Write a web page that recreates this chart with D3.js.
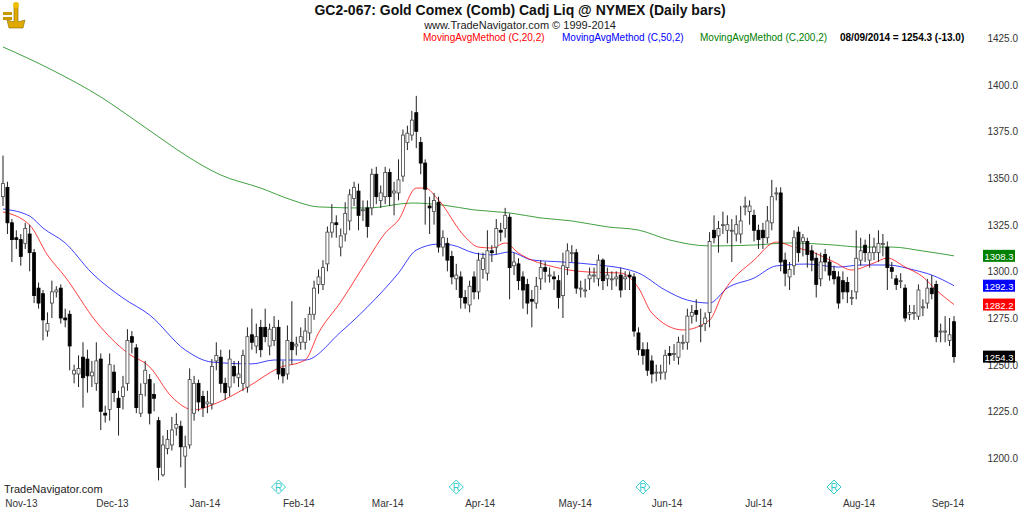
<!DOCTYPE html>
<html>
<head>
<meta charset="utf-8">
<script src="https://cdn.jsdelivr.net/npm/d3@7"></script>
<style>
  body { margin: 0; background: #fff; }
  text { font-family: "Liberation Sans Narrow", "Arial Narrow", "Liberation Sans", sans-serif; }
</style>
</head>
<body>
<div id="chart-area"></div>
<script>
// daily bars, Nov-13 .. Sep-14
const opens = [1340,1345,1326,1318,1317,1315,1320,1310,1291,1288,1268,1283,1289,1291,1275,1277,1245,1245,1254,1253,
  1244,1240,1253,1224,1226,1246,1232,1233,1240,1265,1259,1224,1240,1242,1234,1220,1191,1205,1207,1216,
  1217,1201,1207,1224,1240,1233,1229,1229,1252,1254,1240,1238,1249,1243,1240,1238,1266,1260,1270,1270,
  1260,1263,1270,1248,1245,1262,1260,1262,1262,1267,1277,1293,1293,1304,1321,1326,1313,1320,1327,1339,
  1343,1333,1334,1334,1352,1338,1340,1353,1342,1342,1351,1369,1373,1385,1369,1358,1335,1332,1337,1313,
  1315,1308,1296,1297,1286,1282,1297,1289,1301,1299,1311,1313,1322,1323,1329,1303,1304,1297,1293,1285,
  1283,1296,1302,1298,1297,1295,1287,1302,1310,1310,1291,1290,1296,1298,1296,1306,1296,1296,1296,1298,
  1296,1298,1297,1267,1258,1258,1252,1246,1246,1246,1256,1256,1254,1262,1262,1276,1279,1271,1272,1278,
  1322,1319,1325,1322,1322,1320,1320,1335,1332,1330,1322,1322,1318,1326,1342,1342,1306,1297,1303,1321,
  1316,1316,1311,1307,1296,1309,1305,1300,1297,1295,1294,1286,1289,1306,1314,1306,1310,1310,1315,1313,
  1302,1296,1295,1291,1277,1278,1276,1281,1283,1291,1293,1268,1268,1263,1273];
const closes = [1347,1326,1317,1317,1308,1323,1310,1287,1283,1274,1272,1289,1290,1275,1274,1260,1247,1248,1243,1244,
  1246,1252,1225,1223,1250,1235,1227,1238,1263,1262,1227,1234,1247,1224,1232,1195,1207,1210,1215,1218,
  1206,1206,1242,1240,1230,1227,1230,1249,1255,1240,1235,1253,1244,1245,1255,1265,1262,1265,1258,1265,
  1269,1270,1245,1244,1263,1258,1261,1265,1268,1277,1291,1297,1302,1321,1326,1325,1319,1331,1341,1345,
  1330,1333,1324,1352,1340,1342,1353,1340,1343,1349,1373,1374,1381,1375,1358,1344,1334,1338,1313,1318,
  1306,1297,1298,1286,1283,1292,1289,1306,1307,1311,1310,1323,1321,1330,1302,1305,1295,1290,1283,1284,
  1292,1302,1300,1298,1296,1286,1303,1311,1310,1291,1291,1290,1298,1298,1306,1295,1298,1296,1297,1290,
  1297,1297,1268,1258,1255,1247,1245,1246,1246,1255,1255,1256,1262,1262,1276,1278,1277,1271,1275,1316,
  1318,1323,1325,1325,1322,1325,1327,1335,1335,1322,1317,1318,1327,1340,1342,1305,1299,1301,1318,1310,
  1318,1309,1306,1293,1305,1305,1298,1296,1283,1289,1289,1286,1307,1311,1310,1310,1313,1315,1315,1302,
  1300,1293,1295,1275,1278,1278,1290,1281,1291,1288,1265,1268,1268,1266,1254.3];
const highs = [1362,1348,1328,1322,1320,1326,1325,1312,1294,1290,1278,1295,1292,1293,1280,1279,1250,1255,1262,1258,
  1252,1262,1256,1228,1256,1250,1236,1244,1269,1268,1261,1240,1252,1245,1240,1222,1212,1215,1222,1224,
  1220,1212,1248,1244,1242,1236,1236,1253,1262,1258,1243,1258,1252,1252,1258,1270,1280,1272,1274,1280,
  1272,1276,1274,1252,1271,1284,1265,1270,1275,1281,1295,1301,1306,1324,1336,1330,1323,1337,1344,1348,
  1347,1338,1338,1355,1356,1346,1356,1355,1348,1360,1376,1378,1386,1394,1372,1360,1340,1342,1340,1322,
  1318,1311,1304,1300,1290,1295,1300,1310,1310,1322,1314,1328,1326,1334,1331,1310,1307,1300,1296,1290,
  1297,1306,1305,1302,1300,1298,1310,1315,1314,1312,1295,1296,1302,1302,1309,1307,1302,1300,1300,1302,
  1300,1300,1299,1270,1262,1262,1255,1250,1250,1258,1260,1261,1265,1266,1280,1282,1285,1280,1278,1321,
  1330,1327,1332,1330,1328,1330,1335,1340,1338,1333,1325,1326,1335,1349,1345,1345,1310,1305,1322,1324,
  1320,1318,1314,1310,1310,1312,1308,1303,1300,1300,1297,1290,1322,1318,1317,1320,1318,1322,1320,1316,
  1305,1298,1299,1293,1282,1282,1293,1285,1296,1298,1295,1272,1276,1275,1276];
const lows = [1335,1320,1305,1312,1303,1312,1300,1283,1280,1263,1265,1275,1286,1272,1270,1247,1240,1238,1227,1235,
  1238,1236,1215,1219,1220,1230,1212,1226,1236,1256,1224,1222,1233,1218,1225,1188,1190,1202,1204,1212,
  1195,1184,1205,1220,1225,1222,1224,1226,1247,1235,1231,1233,1240,1238,1236,1235,1258,1256,1254,1262,
  1255,1260,1242,1240,1242,1250,1255,1258,1258,1263,1274,1288,1290,1300,1318,1318,1308,1316,1322,1335,
  1322,1327,1318,1330,1336,1334,1336,1335,1330,1338,1348,1365,1370,1366,1352,1325,1320,1325,1310,1308,
  1300,1293,1290,1280,1280,1278,1285,1285,1296,1295,1305,1309,1316,1318,1285,1298,1290,1280,1277,1270,
  1280,1290,1294,1294,1290,1280,1275,1298,1305,1288,1286,1286,1290,1294,1292,1290,1292,1290,1292,1286,
  1290,1290,1265,1255,1250,1244,1240,1241,1242,1242,1250,1252,1250,1258,1258,1272,1273,1262,1268,1270,
  1315,1310,1320,1315,1305,1316,1315,1330,1325,1316,1312,1312,1315,1322,1338,1300,1292,1290,1298,1305,
  1308,1302,1300,1286,1292,1300,1295,1293,1280,1285,1283,1282,1285,1303,1305,1302,1306,1305,1308,1290,
  1296,1290,1291,1273,1274,1274,1274,1276,1280,1285,1262,1262,1262,1260,1251];

const ma20Idx = [0,6,10,14,21,28,33,38,43,47,55,62,68,71,76,82,86,89,93,95,98,104,107,110,113,116,125,132,139,143,146,153,159,162,169,174,178,182,187,191,196,199,203,207,210,214];
const ma20Val = [1331.8,1324.8,1308.8,1297,1272.9,1256.3,1248.8,1232.7,1225.7,1228.4,1238,1248.2,1252.5,1267,1283.6,1306.1,1320.5,1327.5,1344.6,1344.6,1338.2,1318.4,1313,1312.5,1315.2,1309.8,1301.8,1299.6,1299.1,1291.1,1277.7,1268.6,1273.9,1288.4,1306,1315.7,1313,1310.4,1305,1300.7,1304.5,1307.1,1302.3,1297,1290,1282.2];
const ma50Idx = [0,6,9,14,20,27,33,41,47,56,61,68,76,82,89,93,98,101,106,110,114,119,126,134,141,143,149,154,159,163,169,174,181,188,193,199,205,209,214];
const ma50Val = [1333.4,1329.6,1323.2,1315.2,1299.1,1285.7,1276.6,1257.9,1251.4,1250.4,1252.5,1252.5,1267.5,1280.9,1299.1,1311.4,1314.6,1314.1,1309.8,1308.8,1310.4,1306.1,1305,1303.4,1300.7,1299.1,1290,1284.6,1283,1291.1,1296.4,1302.9,1303.9,1302.3,1303.4,1303.4,1300.7,1298,1292.3];
const ma200Idx = [0,11,22,29,36,41,49,58,65,71,82,92,99,106,114,121,128,136,143,150,159,169,177,187,193,200,207,214];
const ma200Val = [1420.2,1407.9,1393.4,1382.1,1370.4,1362.3,1351.6,1344.6,1338.2,1334.5,1333.9,1336.6,1335.5,1332.9,1331.3,1328.6,1327,1323.8,1322.1,1316.8,1313.6,1314.1,1315.2,1314.1,1313,1313,1310.9,1308.3];

const priceTicks = [1200,1225,1250,1275,1300,1325,1350,1375,1400,1425];
const monthLabels = ["Nov-13","Dec-13","Jan-14","Feb-14","Mar-14","Apr-14","May-14","Jun-14","Jul-14","Aug-14","Sep-14"];
const monthIdx = [0.5,21,42,63,83,104,125,146,167,189,209];
const rMarkIdx = [62,102,144,187];

const W = 1024, H = 512;
const svg = d3.select("#chart-area").append("svg")
  .attr("width", W)
  .attr("height", H);

const x = d3.scaleLinear().domain([0, 214]).range([3, 954]);
const y = d3.scaleLinear().domain([1200, 1425]).range([458, 38]);

// header
svg.append("text").attr("x", 520).attr("y", 15).attr("text-anchor", "middle")
  .attr("font-size", 14).attr("font-weight", "bold").attr("fill", "#111")
  .text("GC2-067:  Gold Comex (Comb) Cadj Liq @ NYMEX  (Daily bars)");
svg.append("text").attr("x", 520).attr("y", 29).attr("text-anchor", "middle")
  .attr("font-size", 11).attr("fill", "#222")
  .text("www.TradeNavigator.com © 1999-2014");
const legend = [
  {t: "MovingAvgMethod (C,20,2)", c: "#ff0000", x: 423, w: "normal"},
  {t: "MovingAvgMethod (C,50,2)", c: "#0000ff", x: 562, w: "normal"},
  {t: "MovingAvgMethod (C,200,2)", c: "#008000", x: 700, w: "normal"},
  {t: "08/09/2014 = 1254.3 (-13.0)", c: "#000", x: 840, w: "bold"}
];
svg.selectAll(".leg").data(legend).enter().append("text")
  .attr("x", d => d.x).attr("y", 41).attr("font-size", 10)
  .attr("font-weight", d => d.w).attr("fill", d => d.c).text(d => d.t);

// logo
const logo = svg.append("g").attr("transform", "translate(16,17)");
logo.append("path").attr("d", "M-2,-12 L2,-12 L2,5 L9,3 L7,11 L-7,11 L-9,3 L-2,5 Z")
  .attr("fill", "#e0aa00").attr("stroke", "#8a6a00").attr("stroke-width", 0.6);
logo.append("rect").attr("x", -13).attr("y", -5).attr("width", 9).attr("height", 3).attr("fill", "#c89800");
logo.append("rect").attr("x", -13).attr("y", 0).attr("width", 9).attr("height", 3).attr("fill", "#c89800");
logo.append("circle").attr("cx", 0).attr("cy", -12).attr("r", 3).attr("fill", "#f0c000");

// right axis
svg.selectAll(".tick").data(priceTicks).enter().append("text")
  .attr("x", 1018).attr("y", d => y(d) + 4).attr("text-anchor", "end")
  .attr("font-size", 10).attr("fill", "#333").text(d => d.toFixed(1));

// moving averages
const line = d3.line().x(d => x(d[0])).y(d => y(d[1])).curve(d3.curveMonotoneX);
const mas = [
  {i: ma200Idx, v: ma200Val, c: "#008000"},
  {i: ma50Idx, v: ma50Val, c: "#0000ff"},
  {i: ma20Idx, v: ma20Val, c: "#ff0000"}
];
mas.forEach(m => {
  svg.append("path").datum(m.i.map((d, k) => [d, m.v[k]]))
    .attr("d", line).attr("fill", "none").attr("stroke", m.c)
    .attr("stroke-opacity", 0.75).attr("stroke-width", 1);
});

// candles
const bars = d3.range(closes.length);
svg.selectAll(".wick").data(bars).enter().append("line")
  .attr("x1", i => x(i)).attr("x2", i => x(i))
  .attr("y1", i => y(highs[i])).attr("y2", i => y(lows[i]))
  .attr("stroke", "#222").attr("stroke-width", 1);
svg.selectAll(".body").data(bars).enter().append("rect")
  .attr("x", i => x(i) - 1.5).attr("width", 3)
  .attr("y", i => y(Math.max(opens[i], closes[i])))
  .attr("height", i => Math.max(1, Math.abs(y(opens[i]) - y(closes[i]))))
  .attr("fill", i => closes[i] >= opens[i] ? "#fff" : "#000")
  .attr("stroke", i => closes[i] >= opens[i] ? "#444" : "#000")
  .attr("stroke-width", 0.8);

// last value boxes
const boxes = [
  {v: 1308.3, c: "#008000"}, {v: 1292.3, c: "#0000ff"},
  {v: 1282.2, c: "#ff0000"}, {v: 1254.3, c: "#000"}
];
const bx = svg.selectAll(".box").data(boxes).enter().append("g");
bx.append("rect").attr("x", 983).attr("y", d => y(d.v) - 6).attr("width", 32).attr("height", 12).attr("fill", d => d.c);
bx.append("text").attr("x", 999).attr("y", d => y(d.v) + 4).attr("text-anchor", "middle")
  .attr("font-size", 9.5).attr("fill", "#fff").text(d => d.v.toFixed(1));

// R markers
const rm = svg.selectAll(".rm").data(rMarkIdx).enter().append("g")
  .attr("transform", i => `translate(${x(i)},487)`);
rm.append("path").attr("d", "M0,-7 L7,0 L0,7 L-7,0 Z").attr("fill", "none").attr("stroke", "#33cccc").attr("stroke-width", 1);
rm.append("text").attr("y", 4).attr("text-anchor", "middle").attr("font-size", 10).attr("fill", "#33cccc").text("R");

// bottom labels
svg.append("text").attr("x", 4).attr("y", 493).attr("font-size", 11).attr("fill", "#222").text("TradeNavigator.com");
svg.selectAll(".mon").data(monthLabels).enter().append("text")
  .attr("x", (d, k) => x(monthIdx[k])).attr("y", 507).attr("font-size", 10).attr("fill", "#333").text(d => d);
</script>
</body>
</html>
